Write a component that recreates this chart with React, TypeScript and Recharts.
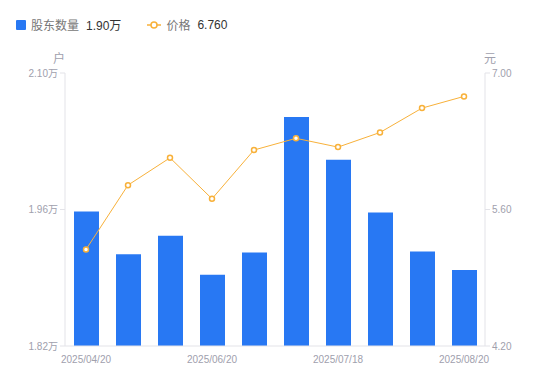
import React from 'react';
import { ComposedChart, Bar, Line, XAxis, YAxis } from 'recharts';

const dates = [
  '2025/04/20', '2025/04/30', '2025/05/20', '2025/06/20', '2025/06/30',
  '2025/07/10', '2025/07/18', '2025/07/31', '2025/08/10', '2025/08/20',
];
const holders = [1.958, 1.914, 1.933, 1.893, 1.916, 2.055, 2.011, 1.957, 1.917, 1.898];
const prices = [5.19, 5.85, 6.13, 5.71, 6.21, 6.33, 6.24, 6.39, 6.64, 6.76];
const holderTicks = [1.82, 1.96, 2.10];
const priceTicks = [4.2, 5.6, 7.0];

const data = dates.map((d, i) => ({ date: d, holders: holders[i], price: prices[i] }));

const FONT = '"Liberation Sans", "Noto Sans CJK SC", sans-serif';
const BLUE = '#2878f3';
const ORANGE = '#f8b13a';
const AXIS = '#e3e3e8';
const TICK = '#a0a0ad';

const App: React.FC = () => {
  return (
    <div style={{ position: 'absolute', left: 0, top: 0, width: 550, height: 381, background: '#fff', fontFamily: FONT }}>
      {/* legend */}
      <div style={{ position: 'absolute', left: 16, top: 16, display: 'flex', alignItems: 'center', fontSize: 12, whiteSpace: 'nowrap' }}>
        <span style={{ width: 10, height: 10, background: BLUE, borderRadius: 1, display: 'inline-block', marginRight: 5 }} />
        <span style={{ color: '#777' }}>股东数量</span>
        <span style={{ color: '#333', marginLeft: 7 }}>1.90万</span>
        <svg width={14} height={10} style={{ marginLeft: 26, marginRight: 5 }}>
          <line x1={0} y1={5} x2={14} y2={5} stroke={ORANGE} strokeWidth={1.5} />
          <circle cx={7} cy={5} r={3} fill="#fff" stroke={ORANGE} strokeWidth={1.5} />
        </svg>
        <span style={{ color: '#777' }}>价格</span>
        <span style={{ color: '#333', marginLeft: 7 }}>6.760</span>
      </div>
      <div style={{ position: 'absolute', left: 53, top: 49, fontSize: 12, color: TICK }}>户</div>
      <div style={{ position: 'absolute', left: 484, top: 49, fontSize: 12, color: TICK }}>元</div>

      <ComposedChart
        width={550}
        height={381}
        data={data}
        margin={{ top: 73, right: 0, bottom: 10, left: 0 }}
        barCategoryGap={0}
      >
        <XAxis
          dataKey="date"
          height={25}
          interval={2}
          tickLine={false}
          axisLine={{ stroke: AXIS }}
          tick={{ fill: TICK, fontSize: 10, fontFamily: FONT }}
          tickMargin={4}
        />
        <YAxis
          yAxisId="left"
          width={65}
          domain={[1.82, 2.1]}
          ticks={holderTicks}
          tickFormatter={(v: number) => v.toFixed(2) + '万'}
          axisLine={{ stroke: AXIS }}
          tickLine={{ stroke: AXIS }}
          tickSize={5}
          tick={{ fill: TICK, fontSize: 10, fontFamily: FONT }}
        />
        <YAxis
          yAxisId="right"
          orientation="right"
          width={65}
          domain={[4.2, 7.0]}
          ticks={priceTicks}
          tickFormatter={(v: number) => v.toFixed(2)}
          axisLine={{ stroke: AXIS }}
          tickLine={{ stroke: AXIS }}
          tickSize={5}
          tick={{ fill: TICK, fontSize: 10, fontFamily: FONT }}
        />
        <Bar yAxisId="left" dataKey="holders" fill={BLUE} barSize={25} isAnimationActive={false} />
        <Line
          yAxisId="right"
          dataKey="price"
          stroke={ORANGE}
          strokeWidth={1}
          dot={{ r: 2.5, fill: '#fff', stroke: ORANGE, strokeWidth: 1.5 }}
          activeDot={false}
          isAnimationActive={false}
        />
      </ComposedChart>
    </div>
  );
};

export default App;
